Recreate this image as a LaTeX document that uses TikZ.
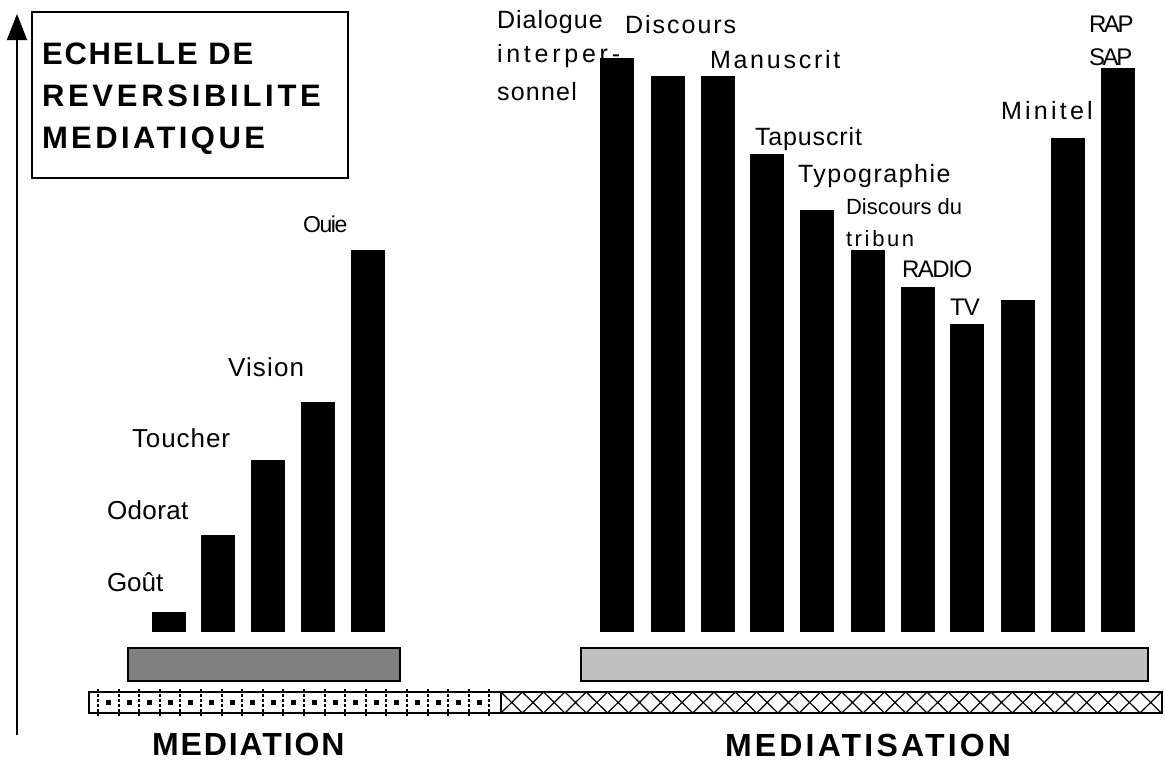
\documentclass[tikz,border=0pt]{standalone}
\usepackage{fontspec}
\setmainfont{Liberation Sans}
\usetikzlibrary{arrows.meta}
\tikzset{
  lab/.style={anchor=base west, inner sep=0pt, outer sep=0pt},
  barnode/.style={fill=black, draw=none, inner sep=0pt, minimum width=34pt, anchor=south west},
  graybar/.style={draw=black, line width=2pt},
}
\newcommand{\fs}[2]{\fontsize{#1}{#1}\selectfont\addfontfeature{LetterSpace=#2}}
\begin{document}
\begin{tikzpicture}[x=1pt,y=-1pt]
\useasboundingbox (0,0) rectangle (1165,763);
% axis
\coordinate (axb) at (17,735);
\coordinate (axt) at (17,14);
\draw[line width=2pt, -{Triangle[length=26pt,width=20pt]}] (axb) -- (axt);
% title box
\node[draw, line width=2pt, minimum width=316pt, minimum height=166pt, anchor=north west, inner sep=0pt] (titlebox) at (31,11) {};
\node[lab, font={\bfseries\fs{31}{6}}] (t1) at (42,64) {ECHELLE DE};
\node[lab, font={\bfseries\fs{31}{12}}] (t2) at (42,106) {REVERSIBILITE};
\node[lab, font={\bfseries\fs{31}{11}}] (t3) at (42,148) {MEDIATIQUE};
% left labels
\node[lab, font={\fs{26}{0}}] (lgout) at (107,591) {Goût};
\node[lab, font={\fs{26}{1.5}}] (lodorat) at (107,519) {Odorat};
\node[lab, font={\fs{26}{3.6}}] (ltoucher) at (132,447) {Toucher};
\node[lab, font={\fs{26}{4.5}}] (lvision) at (228,376) {Vision};
\node[lab, font={\fs{23}{-6}}] (louie) at (303,232) {Ouie};
% right labels
\node[lab, font={\fs{25}{4}}] (rdia) at (497,28) {Dialogue};
\node[lab, font={\fs{25}{15}}] (rinter) at (497,62) {interper-};
\node[lab, font={\fs{25}{5}}] (rsonnel) at (497,100) {sonnel};
\node[lab, font={\fs{25}{8}}] (rdisc) at (625,33) {Discours};
\node[lab, font={\fs{25}{11}}] (rmanu) at (710,68) {Manuscrit};
\node[lab, font={\fs{25}{3.5}}] (rtapu) at (755,145) {Tapuscrit};
\node[lab, font={\fs{25}{6}}] (rtypo) at (798,182) {Typographie};
\node[lab, font={\fs{22}{0}}] (rtrib1) at (846,214) {Discours du};
\node[lab, font={\fs{22}{12}}] (rtrib2) at (846,246) {tribun};
\node[lab, font={\fs{24}{-6}}] (rradio) at (902,277) {RADIO};
\node[lab, font={\fs{24}{-3}}] (rtv) at (950,315) {TV};
\node[lab, font={\fs{25}{13}}] (rmini) at (1001,119) {Minitel};
\node[lab, font={\fs{24}{-10}}] (rrap) at (1089,32) {RAP};
\node[lab, font={\fs{24}{-10}}] (rsap) at (1089,65) {SAP};
% left bars
\foreach \n/\x/\t in {1/152/612, 2/201/535, 3/251/460, 4/301/402, 5/351/250} {
  \node[barnode, minimum height={632-\t}] (lb\n) at (\x,632) {};
}
% right bars
\foreach \n/\x/\t in {1/600/58, 2/651/76, 3/701/76, 4/750/154, 5/800/210, 6/851/250, 7/901/287, 8/950/324, 9/1001/300, 10/1051/138, 11/1101/68} {
  \node[barnode, minimum height={632-\t}] (rb\n) at (\x,632) {};
}
% gray bars
\draw[graybar, fill={rgb,255:red,128;green,128;blue,128}] (128,648) rectangle (400,681);
\draw[graybar, fill={rgb,255:red,192;green,192;blue,192}] (581,648) rectangle (1148,681);
% patterned bar left
\fill[white] (89,692) rectangle (501,713);
\foreach \k in {0,...,19} {
  \pgfmathsetmacro\xx{98+\k*20.6}
  \draw[line width=2pt, dash pattern=on 2.5pt off 2.5pt] (\xx,689) -- (\xx,716);
}
\foreach \k in {0,...,18} {
  \pgfmathsetmacro\xx{98+\k*20.6+8}
  \fill (\xx,700) rectangle ++(5,5);
}
\draw[line width=2pt] (89,692) rectangle (501,713);
% patterned bar right
\begin{scope}
\clip (501,692) rectangle (1162,713);
\foreach \k in {0,...,31} {
  \draw[line width=1.2pt] ({501+\k*21.3},692) -- ({501+(\k+1)*21.3},713)
                          ({501+(\k+1)*21.3},692) -- ({501+\k*21.3},713);
}
\end{scope}
\draw[line width=2pt] (501,692) rectangle (1162,713);
% bottom labels
\node[lab, font={\bfseries\fs{32}{6}}] (bmed) at (152,755) {MEDIATION};
\node[lab, font={\bfseries\fs{32}{10}}] (bmedia) at (725,756) {MEDIATISATION};
\end{tikzpicture}
\end{document}
